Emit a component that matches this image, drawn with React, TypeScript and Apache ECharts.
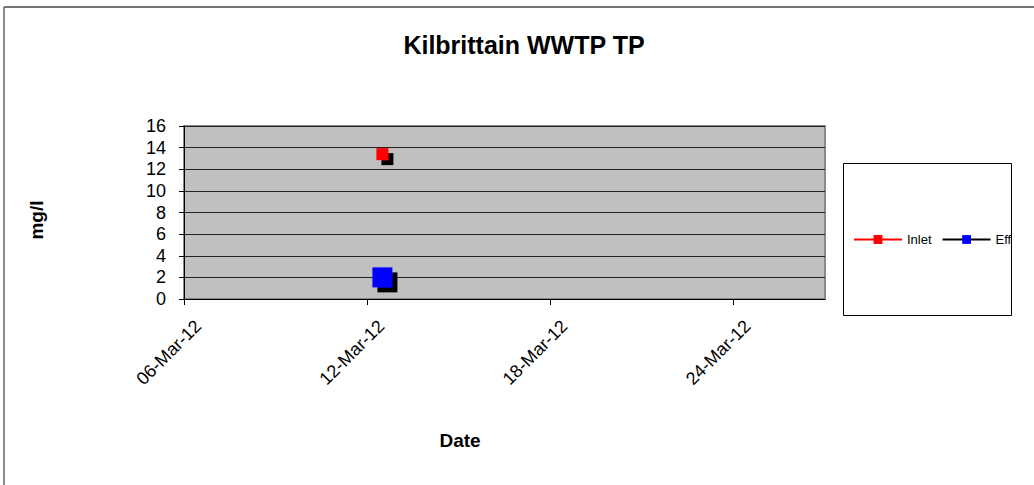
import React, { useEffect, useRef } from "react";
import * as echarts from "echarts";

// Data (x = day of March 2012)
const sampleDays = [12.5];
const inletTP = [13.4];
const effTP = [2.0];
const xTickDays = [6, 12, 18, 24];
const xMin = 6;
const xMax = 27;
const yTicks = [0, 2, 4, 6, 8, 10, 12, 14, 16];
const seriesNames = ["Inlet", "Eff"];

const FONT = "'Liberation Sans', Arial, Helvetica, sans-serif";

export default function App() {
  const ref = useRef<HTMLDivElement>(null);
  useEffect(() => {
    if (!ref.current) return;
    const chart = echarts.init(ref.current, undefined, { renderer: "svg" });
    const fmt = (v: number) => `${String(v).padStart(2, "0")}-Mar-12`;
    chart.setOption({
      animation: false,
      backgroundColor: "#ffffff",
      textStyle: { fontFamily: FONT },
      grid: {
        left: 184,
        right: 209,
        top: 126,
        bottom: 186,
        show: true,
        backgroundColor: "#c0c0c0",
        borderColor: "#8a8a8a",
        borderWidth: 2,
      },
      xAxis: {
        type: "value",
        min: xMin,
        max: xMax,
        interval: 6,
        splitLine: { show: false },
        axisLine: { show: true, lineStyle: { color: "#000", width: 1 } },
        axisTick: {
          show: true,
          length: 6,
          customValues: xTickDays,
          lineStyle: { color: "#000" },
        },
        axisLabel: {
          customValues: xTickDays,
          rotate: 45,
          formatter: fmt,
          fontSize: 18,
          color: "#000",
          fontFamily: FONT,
          verticalAlign: "top",
          lineHeight: 40,
          margin: 10,
        },
      },
      yAxis: {
        type: "value",
        min: yTicks[0],
        max: yTicks[yTicks.length - 1],
        interval: 2,
        splitLine: { show: true, lineStyle: { color: "#222", width: 1 } },
        axisLine: { show: true, lineStyle: { color: "#000", width: 1 } },
        axisTick: { show: true, length: 5, lineStyle: { color: "#000" } },
        axisLabel: {
          fontSize: 18,
          color: "#000",
          fontFamily: FONT,
          margin: 18,
        },
      },
      legend: {
        show: true,
        left: 853,
        top: 233,
        padding: 0,
        orient: "horizontal",
        itemWidth: 48,
        itemHeight: 11,
        itemGap: 10,
        textStyle: { fontSize: 13, color: "#000", fontFamily: FONT },
        itemStyle: { shadowBlur: 0, shadowOffsetX: 0, shadowOffsetY: 0, shadowColor: "transparent" },
        data: seriesNames,
      },
      graphic: [
        { type: "line", shape: { x1: 4, y1: 7, x2: 1040, y2: 7 }, style: { stroke: "#444", lineWidth: 1.5 }, silent: true },
        { type: "line", shape: { x1: 4, y1: 7, x2: 4, y2: 490 }, style: { stroke: "#666", lineWidth: 1.5 }, silent: true },
        {
          type: "rect",
          shape: { x: 843.5, y: 163.5, width: 168, height: 152 },
          style: { fill: "#fff", stroke: "#000", lineWidth: 1 },
          z: -1,
          silent: true,
        },
        {
          type: "text",
          x: 524,
          y: 45,
          style: {
            text: "Kilbrittain WWTP TP",
            font: `bold 25px ${FONT}`,
            fill: "#000",
            textAlign: "center",
            textVerticalAlign: "middle",
          },
        },
        {
          type: "text",
          x: 36,
          y: 220,
          rotation: Math.PI / 2,
          style: {
            text: "mg/l",
            font: `bold 19px ${FONT}`,
            fill: "#000",
            textAlign: "center",
            textVerticalAlign: "middle",
          },
        },
        {
          type: "text",
          x: 460,
          y: 440,
          style: {
            text: "Date",
            font: `bold 19px ${FONT}`,
            fill: "#000",
            textAlign: "center",
            textVerticalAlign: "middle",
          },
        },
      ],
      series: [
        {
          name: seriesNames[0],
          type: "line",
          data: sampleDays.map((d, i) => [d, inletTP[i]]),
          symbol: "rect",
          symbolSize: 12,
          lineStyle: { color: "#ff0000", width: 2 },
          itemStyle: {
            color: "#ff0000",
            shadowColor: "#000",
            shadowBlur: 0,
            shadowOffsetX: 5,
            shadowOffsetY: 5,
          },
        },
        {
          name: seriesNames[1],
          type: "line",
          data: sampleDays.map((d, i) => [d, effTP[i]]),
          symbol: "rect",
          symbolSize: 20,
          lineStyle: { color: "#000000", width: 2 },
          itemStyle: {
            color: "#0000ff",
            shadowColor: "#000",
            shadowBlur: 0,
            shadowOffsetX: 5,
            shadowOffsetY: 5,
          },
        },
      ],
    });
    return () => chart.dispose();
  }, []);
  return (
    <div
      ref={ref}
      style={{ position: "absolute", left: 0, top: 0, width: 1034, height: 485 }}
    />
  );
}
